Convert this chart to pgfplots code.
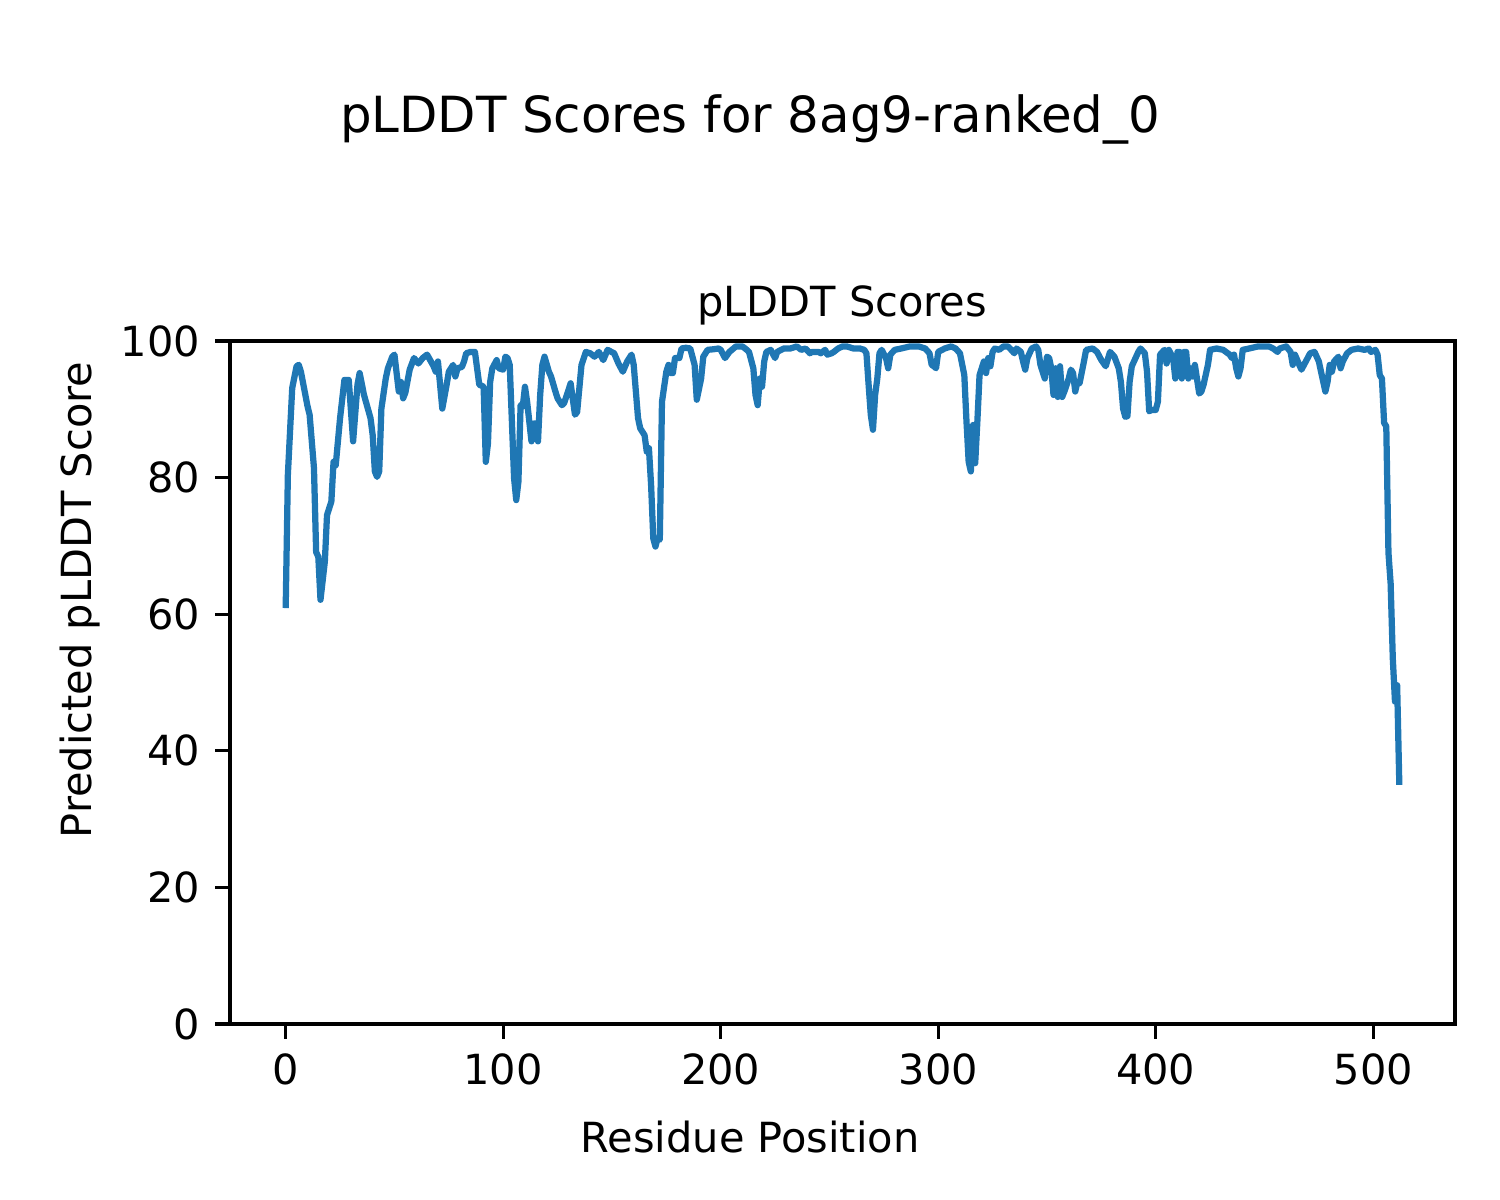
\documentclass[border=0pt]{standalone}
\usepackage{fontspec}
\setmainfont{DejaVu Sans}
\usepackage{pgfplots}
\pgfplotsset{compat=1.18}
\definecolor{mplblue}{HTML}{1F77B4}
\pgfplotstableread{
x y
0 60.9
1 80.4
3 93.1
5 96.3
6 96.5
7 95.5
10 90.5
11 89.2
13 81.4
14 69.1
15 68.4
16 62.1
18 67.7
19 74.5
20 75.5
21 76.5
22 82.3
23 81.8
25 88.7
27 94.3
29 94.3
31 85.3
33 93.6
34 95.3
36 92.1
39 88.7
40 86.2
41 80.9
42 80.1
43 80.9
44 90.1
46 94.5
47 96.0
49 97.7
50 98.0
52 92.6
53 94.0
54 91.6
55 92.4
57 95.8
59 97.5
61 96.7
63 97.5
65 98.0
68 96.3
69 95.5
70 97.0
72 90.1
74 93.6
75 95.5
77 96.5
78 94.8
79 96.0
81 96.2
82 97.0
83 98.2
85 98.4
87 98.4
88 96.0
89 93.6
91 93.3
92 82.3
93 85.0
94 94.0
95 96.0
97 97.2
98 96.0
100 95.8
101 97.7
102 97.5
103 96.5
105 79.9
106 76.7
107 79.4
108 90.6
109 90.4
110 93.3
111 91.1
112 88.2
113 85.3
114 87.9
115 87.9
116 85.3
117 92.1
118 96.5
119 97.7
121 95.5
122 94.8
124 92.6
125 91.6
127 90.6
128 90.9
130 92.8
131 93.8
133 89.2
134 89.6
136 96.5
138 98.4
140 98.2
142 97.7
144 98.4
146 97.2
148 98.7
151 98.2
153 96.7
155 95.5
157 97.0
159 98.0
160 96.5
162 88.7
163 87.2
165 86.2
166 83.8
167 84.3
168 78.9
169 71.1
170 69.9
171 71.1
172 70.9
173 91.1
175 95.5
176 96.5
177 95.3
178 95.3
179 97.5
181 97.5
182 98.9
184 99.0
186 98.9
188 96.5
189 91.4
191 94.5
192 97.7
194 98.7
197 98.8
199 98.9
200 98.7
202 97.5
204 98.4
207 99.2
210 99.2
212 98.7
213 98.4
215 96.0
216 92.1
217 90.6
218 94.5
219 93.3
220 97.0
221 98.4
223 98.7
225 97.5
226 98.4
229 98.9
232 98.9
235 99.2
237 98.7
239 98.9
241 98.2
242 98.4
245 98.4
246 98.2
248 98.7
249 98.0
251 98.2
252 98.4
254 98.9
256 99.2
258 99.2
261 98.9
264 98.9
266 98.7
267 98.2
268 93.6
269 89.2
270 87.0
271 92.1
272 94.5
273 98.2
274 98.7
276 97.5
277 96.0
278 98.0
280 98.7
283 98.9
287 99.2
291 99.2
294 98.9
296 98.2
297 96.5
298 96.3
299 96.0
300 98.4
303 98.9
306 99.2
308 98.9
310 98.2
312 95.0
313 88.2
314 82.3
315 80.9
316 87.7
317 82.1
318 88.2
319 95.0
321 97.0
322 95.3
323 97.5
324 96.3
325 98.4
326 98.9
328 98.7
330 99.2
332 99.2
333 98.9
335 98.2
336 98.9
338 98.4
339 97.0
340 95.8
341 97.5
343 98.9
345 99.2
346 98.7
347 96.5
349 94.5
350 97.7
351 97.5
352 96.0
353 92.1
354 96.0
355 91.8
356 96.3
357 91.8
358 92.6
360 94.5
361 95.8
362 95.3
363 92.6
364 94.0
365 93.8
367 97.0
368 98.7
371 98.9
373 98.4
375 97.2
377 96.3
379 98.4
381 97.7
383 96.0
384 94.0
385 90.1
386 88.9
387 89.0
388 94.0
389 96.3
390 97.0
392 98.4
393 98.9
395 98.2
396 95.5
397 89.7
398 89.9
400 89.9
401 91.1
402 98.0
404 98.7
405 96.7
406 98.7
408 97.5
409 94.5
410 98.4
411 98.4
412 94.5
413 98.4
414 98.4
415 94.5
416 96.0
417 94.8
418 96.5
420 92.3
421 92.6
422 93.6
424 96.5
425 98.7
428 98.9
431 98.7
434 98.0
435 97.5
436 98.0
437 96.0
438 94.8
439 96.0
440 98.7
443 98.9
447 99.2
452 99.2
454 98.9
456 98.4
457 98.9
460 99.2
462 98.4
463 96.5
464 98.0
466 96.5
467 95.8
469 97.0
471 98.2
473 98.4
475 97.0
476 95.5
478 92.6
479 94.0
480 96.5
481 95.5
482 97.0
484 97.7
485 96.0
486 97.0
488 98.2
490 98.7
493 98.9
496 98.7
498 98.9
499 98.4
501 98.7
502 98.0
503 95.0
504 94.5
505 88.0
506 87.5
507 69.0
508 64.5
509 53.5
510 47.2
511 49.6
512 35.0
}\plddt
\begin{document}
\begin{tikzpicture}
\path[use as bounding box] (0,0) rectangle (5in,4in);
\begin{axis}[
  at={(0.7667in,0.5867in)}, anchor=south west,
  scale only axis, width=4.0833in, height=2.2767in,
  xmin=-25.6, xmax=537.6, ymin=0, ymax=100,
  xtick={0,100,200,300,400,500},
  ytick={0,20,40,60,80,100},
  xtick pos=bottom, ytick pos=left,
  tick align=outside,
  major tick length=3.5bp,
  every tick/.style={black, line width=0.8bp},
  axis line style={line width=0.8bp},
  tick label style={font=\fontsize{10}{12}\selectfont},
  /pgf/number format/assume math mode=true,
  xticklabel style={inner sep=0pt, yshift=-3.5bp},
  yticklabel style={inner sep=0pt, xshift=-3.5bp},
  clip=true,
]
\addplot[mplblue, line width=1.5bp, line join=round, no marks] table[x=x, y=y] {\plddt};
\end{axis}
\node[anchor=base, font=\fontsize{12}{14}\selectfont] at (2.5in,3.5567in) {pLDDT Scores for 8ag9-ranked\_0};
\node[anchor=base, font=\fontsize{10}{12}\selectfont] at (2.8067in,2.9433in) {pLDDT Scores};
\node[anchor=base, font=\fontsize{10}{12}\selectfont] at (2.5in,0.1567in) {Residue Position};
\node[anchor=base, rotate=90, font=\fontsize{10}{12}\selectfont] at (0.3056in,2.0in) {Predicted pLDDT Score};
\end{tikzpicture}
\end{document}
